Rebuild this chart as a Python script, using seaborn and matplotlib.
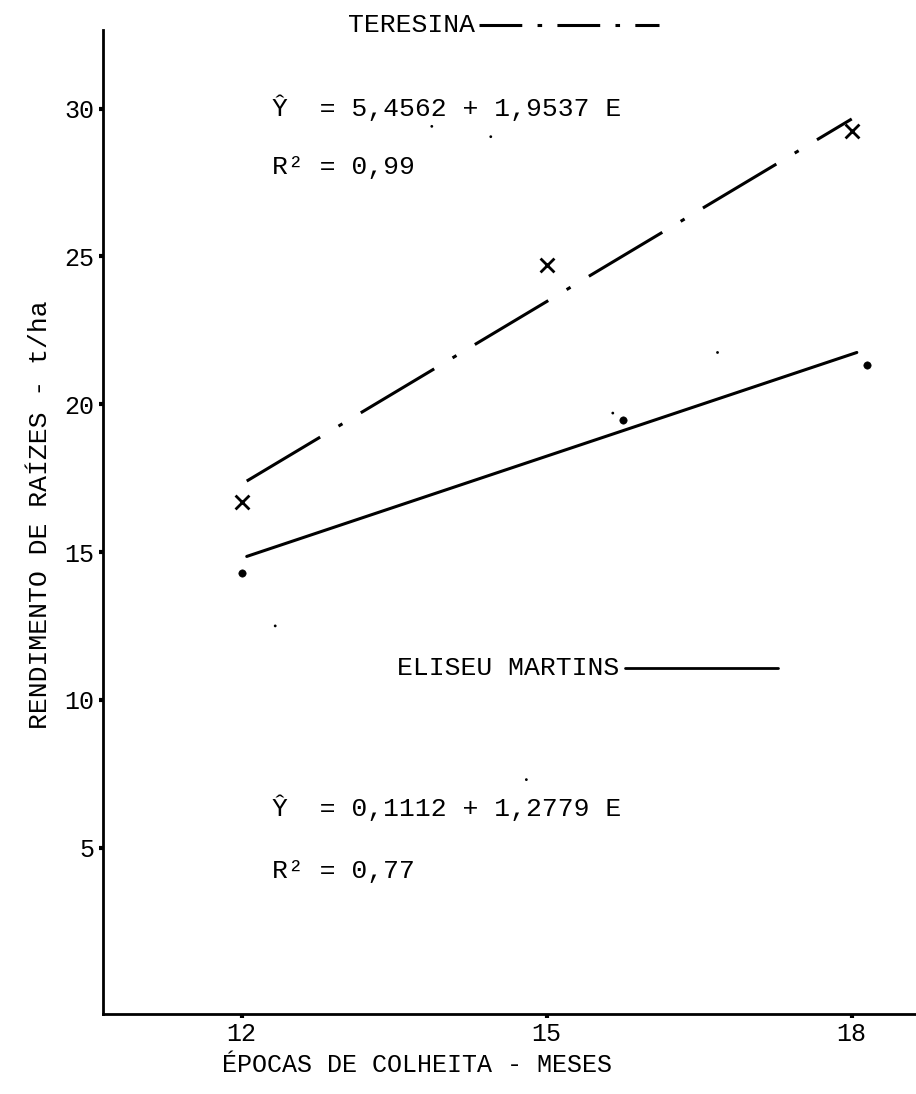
import matplotlib
matplotlib.use("Agg")
import matplotlib.pyplot as plt
import seaborn as sns
import pandas as pd

# harvest month vs root yield (t/ha)
teresina_x = [12, 15, 18]
teresina_y = [16.7, 24.7, 29.25]
teresina_fit_x = [12.05, 18.0]
teresina_fit_y = [17.4, 29.65]

eliseu_x = [12, 15.75, 18.15]
eliseu_y = [14.3, 19.45, 21.33]
eliseu_fit_x = [12.05, 18.05]
eliseu_fit_y = [14.85, 21.75]

# scan specks on the page
speck_x = [13.87, 14.45, 16.68, 15.65, 12.33, 14.8]
speck_y = [29.4, 29.05, 21.75, 19.7, 12.5, 7.3]

x_ticks = [12, 15, 18]
y_ticks = [5, 10, 15, 20, 25, 30]

sns.set_style("ticks")
plt.rcParams["font.family"] = ["Liberation Mono", "DejaVu Sans Mono"]
plt.rcParams["text.color"] = "black"
plt.rcParams["xtick.labelcolor"] = "black"
plt.rcParams["ytick.labelcolor"] = "black"
FS = 19

fig = plt.figure(figsize=(9.16, 10.94), dpi=100)
ax = fig.add_axes([0.1124, 0.0731, 0.8876, 0.8995])

dashdot = (0, (28, 7, 1.5, 7))
ter = pd.DataFrame({"x": teresina_fit_x, "y": teresina_fit_y})
eli = pd.DataFrame({"x": eliseu_fit_x, "y": eliseu_fit_y})
sns.lineplot(data=ter, x="x", y="y", ax=ax, color="black", lw=2.2, linestyle=dashdot)
sns.lineplot(data=eli, x="x", y="y", ax=ax, color="black", lw=2.2)

sns.scatterplot(x=teresina_x, y=teresina_y, ax=ax, marker="x", s=100,
                color="black", linewidth=2)
sns.scatterplot(x=eliseu_x, y=eliseu_y, ax=ax, marker="o", s=28,
                color="black", edgecolor="black")
sns.scatterplot(x=speck_x, y=speck_y, ax=ax, marker="o", s=4,
                color="black", edgecolor="none")

ax.set_xlim(10.636, 18.632)
ax.set_ylim(-0.63, 32.66)
ax.set_xticks(x_ticks)
ax.set_yticks(y_ticks)
ax.set_xticklabels([str(v) for v in x_ticks])
ax.set_yticklabels([str(v) for v in y_ticks])
ax.tick_params(axis="both", length=3, width=3, pad=3, labelsize=18, color="black")
ax.set_xlabel("")
ax.set_ylabel("")
sns.despine(ax=ax)
for s in ["left", "bottom"]:
    ax.spines[s].set_linewidth(2)
    ax.spines[s].set_color("black")

# legend / equations written on the chart
ax.text(13.05, 32.83, "TERESINA", ha="left", va="center", fontsize=FS, clip_on=False)
ax.plot([14.33, 16.10], [32.83, 32.83], color="black", lw=2.2,
        linestyle=(0, (14, 5, 1.5, 5)), clip_on=False)
ax.text(12.30, 30.02, "Ŷ  = 5,4562 + 1,9537 E", ha="left", va="center", fontsize=FS)
ax.text(12.30, 28.02, "R² = 0,99", ha="left", va="center", fontsize=FS)

ax.text(13.53, 11.08, "ELISEU MARTINS", ha="left", va="center", fontsize=FS)
ax.plot([15.77, 17.27], [11.08, 11.08], color="black", lw=2)
ax.text(12.30, 6.34, "Ŷ  = 0,1112 + 1,2779 E", ha="left", va="center", fontsize=FS)
ax.text(12.30, 4.21, "R² = 0,77", ha="left", va="center", fontsize=FS)

fig.text(40 / 916, 1 - 515 / 1094, "RENDIMENTO DE RAÍZES - t/ha", rotation=90,
         ha="center", va="center", fontsize=FS)
fig.text(417 / 916, 1 - 1065 / 1094, "ÉPOCAS DE COLHEITA - MESES",
         ha="center", va="center", fontsize=18)

fig.savefig("out.png", dpi=100)
